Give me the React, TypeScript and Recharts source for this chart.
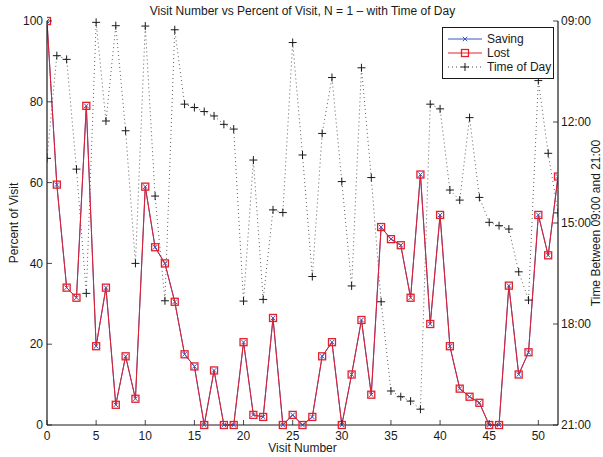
import React from "react";
import { ComposedChart, Line, XAxis, YAxis, Legend, Label } from "recharts";

// ---------------------------------------------------------------
// Data (visit 0..52)
// ---------------------------------------------------------------
const visitNumbers = [
  0, 1, 2, 3, 4, 5, 6, 7, 8, 9, 10, 11, 12, 13, 14, 15, 16, 17, 18, 19, 20,
  21, 22, 23, 24, 25, 26, 27, 28, 29, 30, 31, 32, 33, 34, 35, 36, 37, 38, 39,
  40, 41, 42, 43, 44, 45, 46, 47, 48, 49, 50, 51, 52,
];

const savingPct = [
  100, 59.5, 34, 31.5, 79, 19.5, 34, 5, 17, 6.5, 59, 44, 40, 30.5, 17.5, 14.5,
  0, 13.5, 0, 0, 20.5, 2.5, 2, 26.5, 0, 2.5, 0, 2, 17, 20.5, 0, 12.5, 26, 7.5,
  49, 46, 44.5, 31.5, 62, 25, 52, 19.5, 9, 7, 5.5, 0, 0, 34.5, 12.5, 18, 52,
  42, 61.5,
];

const lostPct = [
  100, 59.5, 34, 31.5, 79, 19.5, 34, 5, 17, 6.5, 59, 44, 40, 30.5, 17.5, 14.5,
  0, 13.5, 0, 0, 20.5, 2.5, 2, 26.5, 0, 2.5, 0, 2, 17, 20.5, 0, 12.5, 26, 7.5,
  49, 46, 44.5, 31.5, 62, 25, 52, 19.5, 9, 7, 5.5, 0, 0, 34.5, 12.5, 18, 52,
  42, 61.5,
];

// hour of day (09:00 = 9, 21:00 = 21)
const timeOfDay = [
  13.08, 10.03, 10.14, 13.4, 17.09, 9.04, 11.97, 9.14, 12.26, 16.2, 9.15,
  14.2, 17.31, 9.26, 11.47, 11.57, 11.69, 11.82, 12.07, 12.21, 17.32, 13.13,
  17.27, 14.61, 14.69, 9.64, 12.98, 16.59, 12.34, 10.68, 13.77, 16.87, 10.39,
  13.65, 17.34, 19.99, 20.16, 20.29, 20.53, 11.47, 11.61, 14.02, 14.32, 11.87,
  14.24, 14.98, 15.08, 15.18, 16.45, 17.29, 10.77, 12.93, 14.7,
];

const xTicks = [0, 5, 10, 15, 20, 25, 30, 35, 40, 45, 50];
const pctTicks = [0, 20, 40, 60, 80, 100];
const hourTicks = [9, 12, 15, 18, 21];

const chartData = visitNumbers.map((v, i) => ({
  visit: v,
  saving: savingPct[i],
  lost: lostPct[i],
  time: timeOfDay[i],
}));

// ---------------------------------------------------------------
// Styling (MATLAB-ish look)
// ---------------------------------------------------------------
const FONT = "'Liberation Sans', Arial, Helvetica, sans-serif";
const INK = "#1a1a1a";
const BLUE = "#3a55c4";
const RED = "#e4202a";
const TICK_LEN = 5;

const hourLabel = (h: number) => `${String(h).padStart(2, "0")}:00`;

const BottomTick = ({ x, y, payload }: any) => (
  <g>
    <line x1={x} x2={x} y1={y - 6} y2={y - 6 - TICK_LEN} stroke={INK} strokeWidth={0.8} />
    <text x={x} y={y} dy="0.71em" textAnchor="middle" fontSize={12} fill={INK} fontFamily={FONT}>
      {payload.value}
    </text>
  </g>
);

const TopTick = ({ x, y }: any) => (
  <line x1={x} x2={x} y1={y} y2={y + TICK_LEN} stroke={INK} strokeWidth={0.8} />
);

const LeftTick = ({ x, y, payload }: any) => (
  <g>
    <line x1={x + 4} x2={x + 4 + TICK_LEN} y1={y} y2={y} stroke={INK} strokeWidth={0.8} />
    <text x={x} y={y} dy="0.35em" textAnchor="end" fontSize={12} fill={INK} fontFamily={FONT}>
      {payload.value}
    </text>
  </g>
);

const MirrorTick = ({ x, y }: any) => (
  <line x1={x} x2={x - TICK_LEN} y1={y} y2={y} stroke={INK} strokeWidth={0.8} />
);

const RightTick = ({ x, y, payload }: any) => (
  <g>
    <line x1={x - 3} x2={x - 3 - TICK_LEN} y1={y} y2={y} stroke={INK} strokeWidth={0.8} />
    <text x={x} y={y} dy="0.35em" textAnchor="start" fontSize={12} fill={INK} fontFamily={FONT}>
      {hourLabel(payload.value)}
    </text>
  </g>
);

// markers
const CrossDot = ({ cx, cy }: any) => {
  if (cx == null || cy == null) return null;
  const s = 2.2;
  return (
    <g>
      <line x1={cx - s} y1={cy - s} x2={cx + s} y2={cy + s} stroke={BLUE} strokeWidth={1} />
      <line x1={cx - s} y1={cy + s} x2={cx + s} y2={cy - s} stroke={BLUE} strokeWidth={1} />
    </g>
  );
};

const SquareDot = ({ cx, cy }: any) => {
  if (cx == null || cy == null) return null;
  const s = 3.5;
  return (
    <rect x={cx - s} y={cy - s} width={s * 2} height={s * 2} fill="none" stroke={RED} strokeWidth={1.3} />
  );
};

const PlusDot = ({ cx, cy }: any) => {
  if (cx == null || cy == null) return null;
  const s = 4;
  return (
    <g>
      <line x1={cx - s} y1={cy} x2={cx + s} y2={cy} stroke={INK} strokeWidth={1} />
      <line x1={cx} y1={cy - s} x2={cx} y2={cy + s} stroke={INK} strokeWidth={1} />
    </g>
  );
};

const SERIES = [
  { key: "saving", name: "Saving", color: BLUE, dash: undefined as string | undefined, Marker: CrossDot },
  { key: "lost", name: "Lost", color: RED, dash: undefined as string | undefined, Marker: SquareDot },
  { key: "time", name: "Time of Day", color: INK, dash: "1 3", Marker: PlusDot },
];

const LegendBox = () => (
  <div
    style={{
      border: `1px solid ${INK}`,
      background: "#fff",
      width: 110,
      padding: "4px 0 4px 0",
      fontFamily: FONT,
      fontSize: 12,
      color: INK,
    }}
  >
    {SERIES.map((s) => (
      <div key={s.key} style={{ display: "flex", alignItems: "center", height: 14 }}>
        <svg width={44} height={14} style={{ display: "block" }}>
          <line
            x1={5}
            x2={39}
            y1={7}
            y2={7}
            stroke={s.color}
            strokeWidth={s.dash ? 0.8 : 1}
            strokeDasharray={s.dash}
          />
          <s.Marker cx={22} cy={7} />
        </svg>
        <span style={{ lineHeight: "14px" }}>{s.name}</span>
      </div>
    ))}
  </div>
);

export default function App() {
  return (
    <div
      style={{
        position: "absolute",
        left: 0,
        top: 0,
        width: 603,
        height: 457,
        background: "#fff",
      }}
    >
      <div
        style={{
          position: "absolute",
          left: 47,
          width: 511,
          top: 3,
          textAlign: "center",
          fontFamily: FONT,
          fontSize: 12,
          color: INK,
          lineHeight: "16px",
        }}
      >
        Visit Number vs Percent of Visit, N = 1 – with Time of Day
      </div>
      <ComposedChart
        width={603}
        height={457}
        data={chartData}
        margin={{ top: 21, right: 0, bottom: 0, left: 7 }}
      >
        <XAxis
          dataKey="visit"
          type="number"
          domain={[0, 52]}
          ticks={xTicks}
          interval={0}
          height={32}
          tickSize={0}
          tickMargin={6}
          tickLine={false}
          tick={<BottomTick />}
          axisLine={{ stroke: INK, strokeWidth: 1.2 }}
          allowDataOverflow
        >
          <Label
            value="Visit Number"
            position="insideBottom"
            offset={5}
            style={{ fontSize: 12, fill: INK, fontFamily: FONT }}
          />
        </XAxis>
        <XAxis
          xAxisId="top"
          dataKey="visit"
          type="number"
          orientation="top"
          domain={[0, 52]}
          ticks={xTicks}
          interval={0}
          height={0}
          tickSize={0}
          tickMargin={0}
          tickLine={false}
          tick={<TopTick />}
          axisLine={{ stroke: INK, strokeWidth: 1.2 }}
          allowDataOverflow
        />
        <YAxis
          yAxisId="pct"
          type="number"
          domain={[0, 100]}
          ticks={pctTicks}
          interval={0}
          width={40}
          tickSize={0}
          tickMargin={4}
          tickLine={false}
          tick={<LeftTick />}
          axisLine={{ stroke: INK, strokeWidth: 1.2 }}
        >
          <Label
            value="Percent of Visit"
            angle={-90}
            position="insideLeft"
            offset={7}
            style={{ fontSize: 12, fill: INK, fontFamily: FONT, textAnchor: "middle" }}
          />
        </YAxis>
        <YAxis
          yAxisId="pctMirror"
          orientation="right"
          type="number"
          domain={[0, 100]}
          ticks={pctTicks}
          interval={0}
          width={0}
          tickSize={0}
          tickMargin={0}
          tickLine={false}
          tick={<MirrorTick />}
          axisLine={false}
        />
        <YAxis
          yAxisId="time"
          orientation="right"
          type="number"
          domain={[9, 21]}
          reversed
          ticks={hourTicks}
          interval={0}
          width={45}
          tickSize={0}
          tickMargin={3}
          tickLine={false}
          tick={<RightTick />}
          axisLine={{ stroke: INK, strokeWidth: 1.2 }}
        >
          <Label
            value="Time Between 09:00 and 21:00"
            angle={-90}
            position="insideRight"
            offset={7}
            style={{ fontSize: 12, fill: INK, fontFamily: FONT, textAnchor: "middle" }}
          />
        </YAxis>
        <Legend
          layout="vertical"
          align="center"
          verticalAlign="middle"
          content={() => <LegendBox />}
          wrapperStyle={{ left: 442, top: 27, width: 112, height: 52 }}
        />
        <Line
          yAxisId="time"
          dataKey="time"
          name="Time of Day"
          stroke="#333"
          strokeWidth={0.8}
          strokeDasharray="1 3"
          dot={<PlusDot />}
          activeDot={false}
          isAnimationActive={false}
        />
        <Line
          yAxisId="pct"
          dataKey="saving"
          name="Saving"
          stroke={BLUE}
          strokeWidth={1}
          dot={<CrossDot />}
          activeDot={false}
          isAnimationActive={false}
        />
        <Line
          yAxisId="pct"
          dataKey="lost"
          name="Lost"
          stroke={RED}
          strokeWidth={1}
          dot={<SquareDot />}
          activeDot={false}
          isAnimationActive={false}
        />
      </ComposedChart>
    </div>
  );
}
